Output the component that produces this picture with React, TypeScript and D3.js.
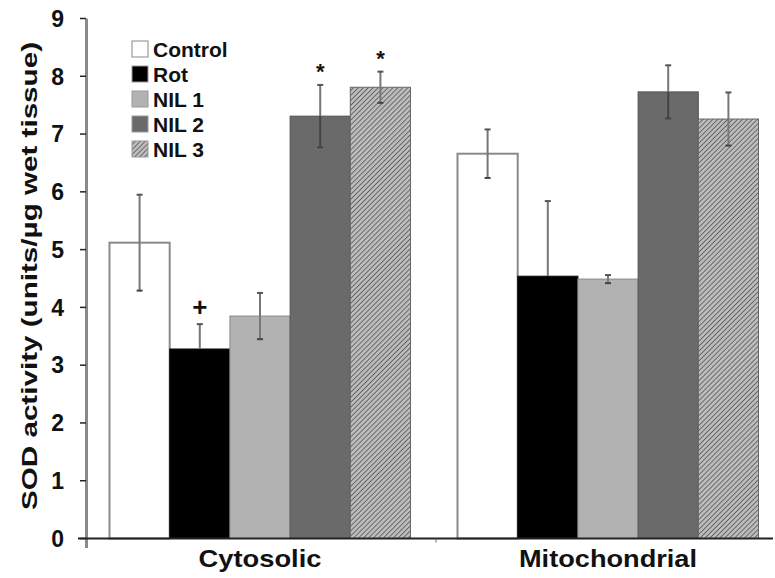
import React from "react";
import * as d3 from "d3";

const categories = ["Cytosolic", "Mitochondrial"];
const categoryLabelWidths = [123, 178];
const series = ["Control", "Rot", "NIL 1", "NIL 2", "NIL 3"];
const means = [
  [5.12, 3.28, 3.85, 7.31, 7.81],
  [6.66, 4.54, 4.49, 7.73, 7.26],
];
const errors = [
  [0.83, 0.43, 0.4, 0.54, 0.27],
  [0.42, 1.3, 0.07, 0.46, 0.46],
];
const marks = [
  ["", "+", "", "*", "*"],
  ["", "", "", "", ""],
];
const yTicks = [0, 1, 2, 3, 4, 5, 6, 7, 8, 9];

const fills = ["#ffffff", "#000000", "#b2b2b2", "#6a6a6a", "url(#hatch)"];
const strokes = ["#8a8a8a", "#111111", "#8a8a8a", "#555555", "#666666"];

export default function App() {
  const W = 775, H = 578;
  const y = d3.scaleLinear().domain([0, 9]).range([538.5, 18.5]);
  const x0 = d3.scaleBand().domain(categories).range([86, 782]).paddingInner(0.135).paddingOuter(0.0675);
  const x1 = d3.scaleBand().domain(series).range([0, x0.bandwidth()]).padding(0);
  const font = "Arial, 'Liberation Sans', Helvetica, sans-serif";
  return (
    <svg width={W} height={H} style={{ position: "absolute", left: 0, top: 0, background: "#fff" }}>
      <defs>
        <pattern id="hatch" width="3.5" height="3.5" patternUnits="userSpaceOnUse" patternTransform="rotate(45)">
          <rect width="3.5" height="3.5" fill="#bdbdbd" />
          <line x1="0" y1="0" x2="0" y2="3.5" stroke="#606060" strokeWidth="1.8" />
        </pattern>
      </defs>
      {/* bars */}
      {categories.map((c, ci) => (
        <g key={c}>
          {series.map((s, si) => {
            const bx = (x0(c) as number) + (x1(s) as number);
            const bw = x1.bandwidth();
            const v = means[ci][si];
            const e = errors[ci][si];
            const cx = bx + bw / 2;
            return (
              <g key={s}>
                <rect x={bx} y={y(v)} width={bw} height={y(0) - y(v)} fill={fills[si]}
                  stroke={strokes[si]} strokeWidth={si === 0 ? 2 : 1} />
                <line x1={cx} x2={cx} y1={y(v + e)} y2={y(v)} stroke="#777" strokeWidth={2} />
                <line x1={cx} x2={cx} y1={y(v)} y2={y(v - e)} stroke={si === 1 ? "#000" : si === 3 ? "#444" : "#777"} strokeWidth={2} />
                <line x1={cx - 3} x2={cx + 3} y1={y(v + e)} y2={y(v + e)} stroke="#555" strokeWidth={2} />
                <line x1={cx - 3} x2={cx + 3} y1={y(v - e)} y2={y(v - e)} stroke={si === 1 ? "#000" : "#444"} strokeWidth={2} />
                {marks[ci][si] === "+" && (
                  <text x={cx} y={y(v + e) - 8} textAnchor="middle" fontFamily={font} fontWeight="bold" fontSize={26} fill="#111">+</text>
                )}
                {marks[ci][si] === "*" && (
                  <text x={cx} y={y(v + e) - 6} textAnchor="middle" fontFamily={font} fontWeight="bold" fontSize={22} fill="#111">*</text>
                )}
              </g>
            );
          })}
        </g>
      ))}
      {/* y axis */}
      <line x1={86.5} x2={86.5} y1={y(9)} y2={548} stroke="#8a8a8a" strokeWidth={3} />
      {yTicks.map((t) => (
        <g key={t}>
          <line x1={80} x2={86} y1={y(t)} y2={y(t)} stroke="#222" strokeWidth={1.5} />
          <text x={64} y={y(t)} dy="0.36em" textAnchor="end" fontFamily={font} fontWeight="bold" fontSize={23} fill="#111">{t}</text>
        </g>
      ))}
      {/* x axis */}
      <line x1={78} x2={773} y1={y(0)} y2={y(0)} stroke="#222" strokeWidth={2} />
      <line x1={436} x2={436} y1={y(0)} y2={y(0) + 4} stroke="#666" strokeWidth={1} />
      {categories.map((c, ci) => (
        <text key={c} x={(x0(c) as number) + x0.bandwidth() / 2} y={567} textAnchor="middle" fontFamily={font} fontWeight="bold" fontSize={24} fill="#111"
          textLength={categoryLabelWidths[ci]} lengthAdjust="spacingAndGlyphs">{c}</text>
      ))}
      <text transform={`translate(37, 276) rotate(-90)`} textAnchor="middle" fontFamily={font} fontWeight="bold" fontSize={22} fill="#111"
        textLength={468} lengthAdjust="spacingAndGlyphs">
        SOD activity (units/µg wet tissue)
      </text>
      {/* legend */}
      {series.map((s, si) => (
        <g key={s} transform={`translate(132, ${49 + si * 25})`}>
          <rect x={0} y={-8} width={16} height={16} fill={fills[si]} stroke={si === 0 ? "#888" : "#999"} strokeWidth={1} />
          <text x={21} y={0} dy="0.36em" fontFamily={font} fontWeight="bold" fontSize={21} fill="#111">{s}</text>
        </g>
      ))}
    </svg>
  );
}
